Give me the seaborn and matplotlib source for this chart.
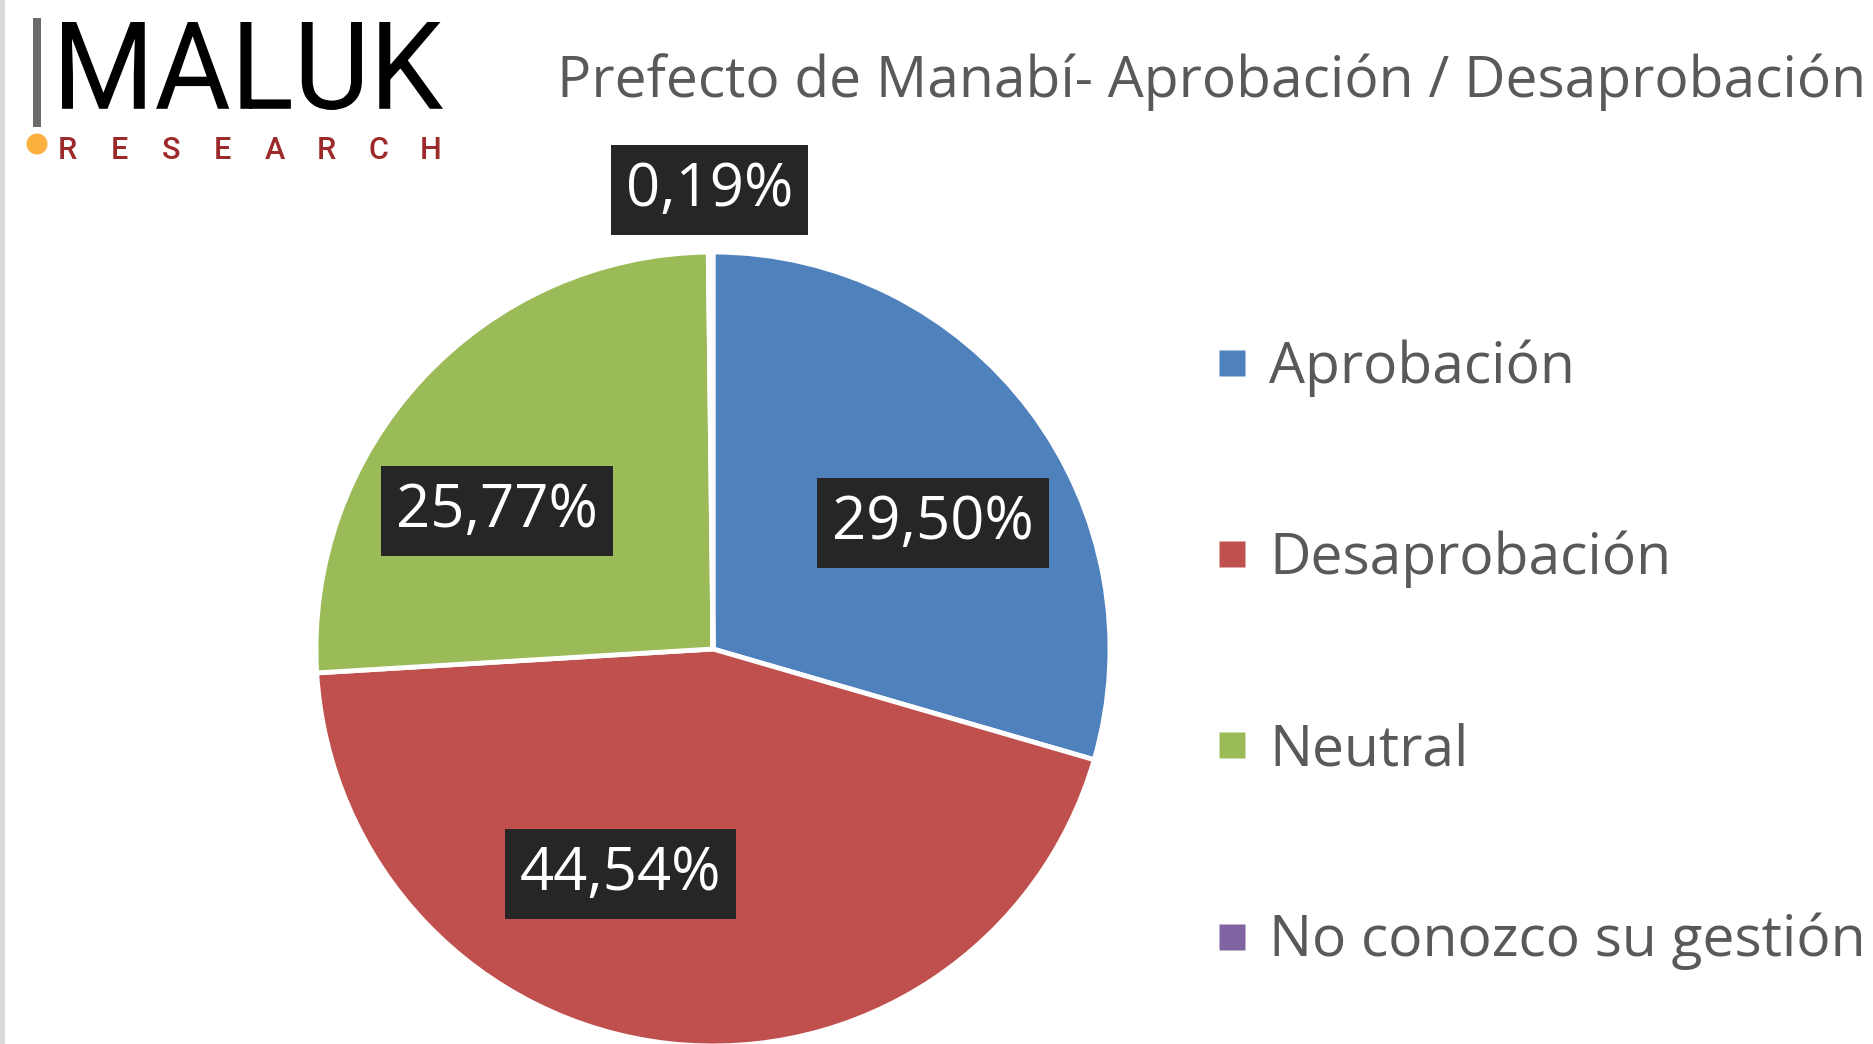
import matplotlib
matplotlib.use("Agg")
import matplotlib.pyplot as plt
import seaborn as sns
import numpy as np
from matplotlib.lines import Line2D
from matplotlib.patches import PathPatch, Ellipse, Rectangle
from matplotlib.textpath import TextPath
from matplotlib.font_manager import FontProperties

# Datos
categorias = ["Aprobación", "Desaprobación", "Neutral", "No conozco su gestión"]
porcentajes = [29.50, 44.54, 25.77, 0.19]
titulo = "Prefecto de Manabí- Aprobación / Desaprobación"

colores = ["#4F81BD", "#C0504D", "#9BBB59", "#8064A2"]

sns.set_theme(style="white")
plt.rcParams["font.family"] = ["Open Sans", "DejaVu Sans"]

W, H = 1874, 1044
fig = plt.figure(figsize=(W / 100, H / 100), dpi=100)
fig.patch.set_facecolor("white")

# borde gris a la izquierda
fig.add_artist(Rectangle((0, 0), 5 / W, 1, transform=fig.transFigure,
                         facecolor="#d9d9d9", edgecolor="none"))

# pastel
cx, cy, r = 713, 649, 397
ax = fig.add_axes([(cx - r) / W, (H - cy - r) / H, 2 * r / W, 2 * r / H])
wedges, _ = ax.pie(porcentajes, colors=sns.color_palette(colores), startangle=90,
                   counterclock=False, radius=1,
                   wedgeprops=dict(edgecolor="white", linewidth=3.5))
ax.set_xlim(-1, 1)
ax.set_ylim(-1, 1)
ax.set_axis_off()

# posiciones de etiquetas (r, angulo) al estilo "ajuste optimo" de Excel
pos_etq = [(0.638, 29.8), (0.613, -112.4), (0.646, 147.4), (1.156, 90.4)]
for v, (rr, ang) in zip(porcentajes, pos_etq):
    t = np.deg2rad(ang)
    ax.text(rr * np.cos(t), rr * np.sin(t), f"{v:.2f}".replace(".", ",") + "%",
            ha="center", va="center", color="white", fontsize=43, clip_on=False,
            bbox=dict(boxstyle="square,pad=0.25", fc="#262626", ec="none"))

# titulo
fig.text(557 / W, 1 - 97 / H, titulo, ha="left", va="baseline",
         color="#595959", fontsize=41)

# leyenda
handles = [Line2D([], [], marker="s", linestyle="none", markersize=19,
                  markerfacecolor=c, markeredgecolor="none") for c in colores]
leg = fig.legend(handles, categorias, loc="upper left",
                 bbox_to_anchor=(1184 / W, 1 - 311 / H), frameon=False,
                 fontsize=41, labelcolor="#595959", labelspacing=2.35,
                 handletextpad=0.3, handlelength=0.7, borderpad=0)

# logo
lax = fig.add_axes([62 / W, 1 - 110 / H, 381 / W, 88 / H])
tp = TextPath((0, 0), "MALUK", prop=FontProperties(family="Roboto"))
bb = tp.get_extents()
lax.add_patch(PathPatch(tp, facecolor="black", edgecolor="none"))
lax.set_xlim(bb.x0, bb.x1)
lax.set_ylim(bb.y0, bb.y1)
lax.set_axis_off()

fig.add_artist(Rectangle((33 / W, 1 - 127 / H), 8 / W, 109 / H,
                         transform=fig.transFigure, facecolor="#6b6b6b",
                         edgecolor="none"))
fig.add_artist(Ellipse((37 / W, 1 - 144 / H), 21 / W, 21 / H,
                       transform=fig.transFigure, facecolor="#FBB040",
                       edgecolor="none"))
for i, letra in enumerate("RESEARCH"):
    fig.text((67 + i * 51.9) / W, 1 - 159 / H, letra, ha="center", va="baseline",
             color="#9C2A2A", fontsize=22, family="Roboto", fontweight="medium")

fig.savefig("out.png", dpi=100)
